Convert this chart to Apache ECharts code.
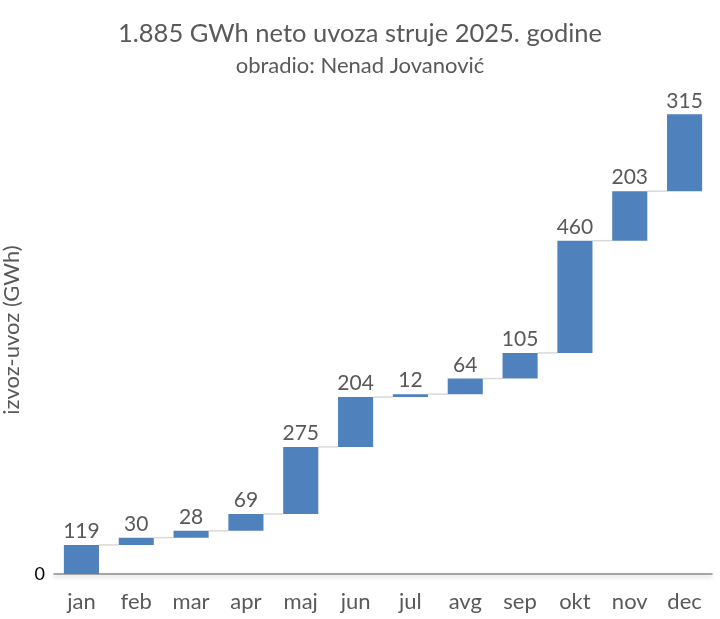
<!DOCTYPE html>
<html><head><meta charset="utf-8">
<script src="https://cdn.jsdelivr.net/npm/echarts@6/dist/echarts.min.js"></script>
<style>html,body{margin:0;padding:0;background:#fff}#c{width:720px;height:619px}</style>
</head><body><div id="c"></div>
<script>
const categories = ['jan','feb','mar','apr','maj','jun','jul','avg','sep','okt','nov','dec'];
const values = [119,30,28,69,275,204,12,64,105,460,203,315];
const yTicks = [0];

const bases = [];
let acc = 0;
values.forEach(v => { bases.push(acc); acc += v; });
const tops = values.map((v,i) => bases[i] + v);
const FONT = 'Lato';

const chart = echarts.init(document.getElementById('c'));
chart.setOption({
  animation: false,
  textStyle: {fontFamily: FONT},
  title: [
    {text: '1.885 GWh neto uvoza struje 2025. godine', left: 'center', top: 16,
     textStyle: {fontFamily: FONT, fontSize: 25.5, fontWeight: 'normal', color: '#595959'}},
    {text: 'obradio: Nenad Jovanović', left: 'center', top: 50,
     textStyle: {fontFamily: FONT, fontSize: 22, fontWeight: 'normal', color: '#595959'}}
  ],
  grid: {left: 54, right: 8, top: 86, bottom: 45, outerBoundsMode: 'none', containLabel: false},
  xAxis: {
    type: 'category', data: categories,
    axisTick: {show: false},
    axisLine: {lineStyle: {color: '#8c8c8c', width: 1.5, shadowColor: 'rgba(0,0,0,0.25)', shadowBlur: 4, shadowOffsetY: 2}},
    axisLabel: {color: '#595959', fontSize: 22, margin: 17, fontFamily: FONT}
  },
  yAxis: {
    type: 'value', min: 0, max: 2000, interval: 2000,
    name: 'izvoz-uvoz (GWh)', nameLocation: 'middle', nameGap: 31,
    nameTextStyle: {color: '#595959', fontSize: 22, fontFamily: FONT},
    splitLine: {show: false}, axisLine: {show: false}, axisTick: {show: false},
    axisLabel: {color: '#000', fontSize: 18, margin: 9, fontFamily: FONT,
      formatter: v => yTicks.includes(v) ? String(v) : ''}
  },
  series: [
    {type: 'bar', stack: 'w', data: bases, barWidth: '64%',
     itemStyle: {color: 'transparent'}, emphasis: {disabled: true}, silent: true},
    {type: 'bar', stack: 'w', data: values, barWidth: '64%',
     itemStyle: {color: '#4f81bd'},
     label: {show: true, position: 'top', distance: 3, color: '#595959', fontSize: 21, fontFamily: FONT}},
    {type: 'custom', silent: true, z: 1,
     data: tops.slice(0, -1).map((t,i) => [i, t]),
     renderItem: function (params, api) {
       const i = api.value(0), t = api.value(1);
       const p1 = api.coord([i, t]);
       const p2 = api.coord([i + 1, t]);
       const bw = api.size([1, 0])[0] * 0.64 / 2;
       return {type: 'line', shape: {x1: p1[0] + bw, y1: p1[1], x2: p2[0] - bw, y2: p2[1]},
               style: {stroke: '#d9d9d9', lineWidth: 1.5}};
     }}
  ]
});
</script></body></html>
